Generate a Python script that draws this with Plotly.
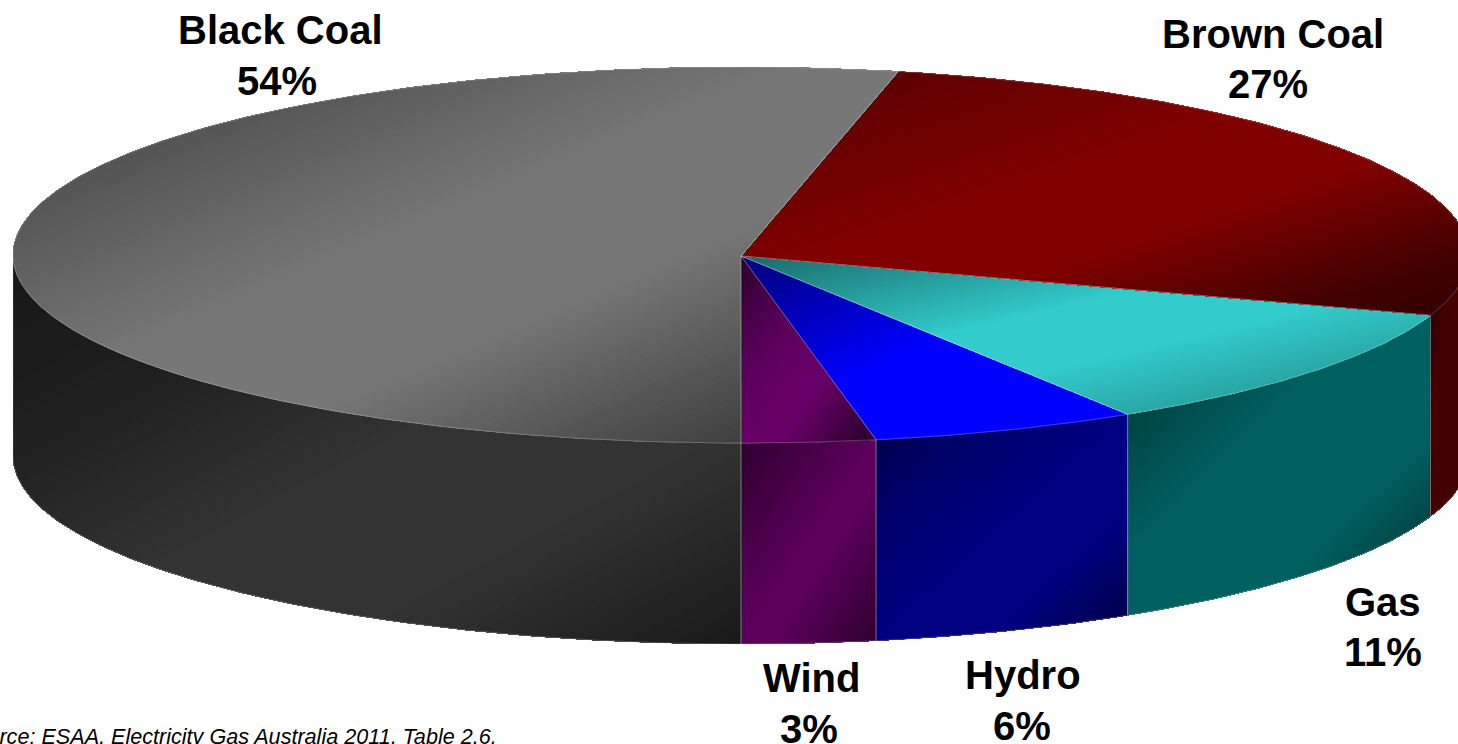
import numpy as np
import plotly.graph_objects as go

# Generation shares, listed clockwise-on-paper from the front of the pie
sources = ["Wind", "Hydro", "Gas", "Brown Coal", "Black Coal"]
shares = [3, 6, 11, 27, 54]
top_colours = ["#660066", "#0000ff", "#33cccc", "#800000", "#777777"]
side_colours = ["#5c005c", "#000080", "#006060", "#440000", "#333333"]
source_note = "Source: ESAA, Electricity Gas Australia 2011, Table 2.6."

# Label placement: (name x, name baseline, share x, share baseline)
label_spots = {
    "Wind": (811, 691, 809, 742),
    "Hydro": (1023, 688, 1022, 739),
    "Gas": (1383, 615, 1383, 665),
    "Brown Coal": (1273, 47, 1268, 97),
    "Black Coal": (280, 43, 277, 94),
}

WIDTH, HEIGHT = 1458, 744
CX, CY, RX, RY, DEPTH = 741, 255, 728, 188, 201

# Brightness along each face's diagonal: dark corners, bright middle
top_ramps = {
    "Wind": ([0.0, 0.30, 0.50, 0.65, 0.95], [0.42, 0.85, 1.0, 1.0, 0.45]),
    "Hydro": ([0.0, 0.30, 0.48, 1.0], [0.48, 0.80, 1.0, 1.0]),
    "Gas": ([0.0, 0.40, 0.58, 0.78, 1.0], [0.52, 1.0, 1.0, 0.82, 0.70]),
    "Brown Coal": ([0.0, 0.16, 0.42, 0.62, 0.88, 1.0], [0.60, 0.78, 1.0, 1.0, 0.50, 0.38]),
    "Black Coal": ([0.0, 0.16, 0.29, 0.45, 0.62, 0.88, 1.0], [0.56, 0.68, 0.83, 1.0, 1.0, 0.58, 0.38]),
}
side_ramps = {
    "Wind": ([0.0, 0.50, 0.60, 1.0], [0.50, 1.0, 1.0, 0.50]),
    "Hydro": ([0.0, 0.25, 0.50, 0.72, 1.0], [0.55, 0.85, 1.0, 1.0, 0.50]),
    "Gas": ([0.17, 0.40, 0.70, 0.86, 1.0], [0.70, 1.0, 1.0, 0.68, 0.50]),
    "Brown Coal": ([0.0, 0.30, 0.75, 1.0], [0.55, 1.0, 1.0, 0.60]),
    "Black Coal": ([0.0, 0.25, 0.50, 0.72, 1.0], [0.45, 0.62, 1.0, 1.0, 0.50]),
}


def arc(start, stop, drop=0.0):
    """Points on the rim, angles in radians measured from the front of the pie."""
    steps = max(2, int(abs(stop - start) / np.radians(0.5)))
    theta = np.linspace(start, stop, steps)
    return np.column_stack((CX + RX * np.sin(theta), CY + RY * np.cos(theta) + drop))


def clip_above(poly, ramp_pos, level):
    """Keep the part of a polygon whose ramp position is at or past level."""
    keep = []
    count = len(poly)
    for i in range(count):
        a, b = poly[i], poly[(i + 1) % count]
        ta, tb = ramp_pos(a), ramp_pos(b)
        if ta >= level:
            keep.append(a)
        if (ta >= level) != (tb >= level):
            keep.append(a + (b - a) * (level - ta) / (tb - ta))
    return np.array(keep)


def hex_rgb(code):
    return np.array([int(code[i:i + 2], 16) for i in (1, 3, 5)], dtype=float)


def shaded_face(fig, poly, colour, ramp):
    """Paint a face as overlapping diagonal bands so no seams show between them."""
    low, high = poly.min(axis=0), poly.max(axis=0)
    span = high - low

    def ramp_pos(p):
        return ((p[0] - low[0]) / span[0] + (p[1] - low[1]) / span[1]) / 2

    base = hex_rgb(colour)
    # One band per visible colour step keeps the shading smooth
    bands = int(np.clip(base.max() * (1 - min(ramp[1])) * 2.2, 24, 110))
    for level in np.linspace(0, 1, bands, endpoint=False):
        piece = clip_above(poly, ramp_pos, level)
        if len(piece) < 3:
            continue
        mid = level + 0.5 / bands
        r, g, b = (base * np.interp(mid, ramp[0], ramp[1])).round().astype(int)
        fig.add_trace(go.Scatter(
            x=piece[:, 0], y=piece[:, 1], mode="lines", fill="toself",
            fillcolor=f"rgb({r},{g},{b})", line=dict(width=0),
            hoverinfo="skip", showlegend=False,
        ))


def outline(fig, poly):
    closed = np.vstack((poly, poly[:1]))
    fig.add_trace(go.Scatter(
        x=closed[:, 0], y=closed[:, 1], mode="lines",
        line=dict(color="rgba(215,215,215,0.35)", width=0.8),
        hoverinfo="skip", showlegend=False,
    ))


fig = go.Figure()

fractions = np.array(shares, dtype=float) / sum(shares)
edges = np.concatenate(([0.0], np.cumsum(fractions))) * 2 * np.pi
apex = np.array([[CX, CY + 1.0]])

# Walls first, only where the rim faces the viewer
walls = []
for i, name in enumerate(sources):
    start, stop = edges[i], edges[i + 1]
    spans = []
    if start < np.pi / 2:
        spans.append((start, min(stop, np.pi / 2)))
    if stop > 3 * np.pi / 2:
        spans.append((max(start, 3 * np.pi / 2), stop))
    for a, b in spans:
        wall = np.vstack((arc(a, b), arc(a, b, DEPTH)[::-1]))
        shaded_face(fig, wall, side_colours[i], side_ramps[name])
        walls.append(wall)
for wall in walls:
    outline(fig, wall)

# Top surface of each slice
tops = []
for i, name in enumerate(sources):
    top = np.vstack((apex, arc(edges[i], edges[i + 1])))
    shaded_face(fig, top, top_colours[i], top_ramps[name])
    tops.append(top)
for top in tops:
    outline(fig, top)

label_font = dict(family="Liberation Sans, Arial, sans-serif", size=40, color="#000000")
for name, share in zip(sources, shares):
    name_x, name_y, share_x, share_y = label_spots[name]
    for text, x, base in ((f"<b>{name}</b>", name_x, name_y), (f"<b>{share}%</b>", share_x, share_y)):
        fig.add_annotation(
            x=x, y=base - 13, text=text, showarrow=False, xanchor="center", yanchor="middle",
            font=label_font, borderpad=0,
        )

fig.add_annotation(
    x=498, y=736.5, text=f"<i>{source_note}</i>", showarrow=False, xanchor="right", yanchor="middle",
    font=dict(family="Liberation Sans, Arial, sans-serif", size=21.6, color="#000000"), borderpad=0,
)

fig.update_layout(
    width=WIDTH, height=HEIGHT, margin=dict(l=0, r=0, t=0, b=0),
    paper_bgcolor="#ffffff", plot_bgcolor="#ffffff", showlegend=False,
    xaxis=dict(range=[0, WIDTH], visible=False, fixedrange=True),
    yaxis=dict(range=[HEIGHT, 0], visible=False, fixedrange=True),
)
fig.write_html("out.html", config=dict(displayModeBar=False))
